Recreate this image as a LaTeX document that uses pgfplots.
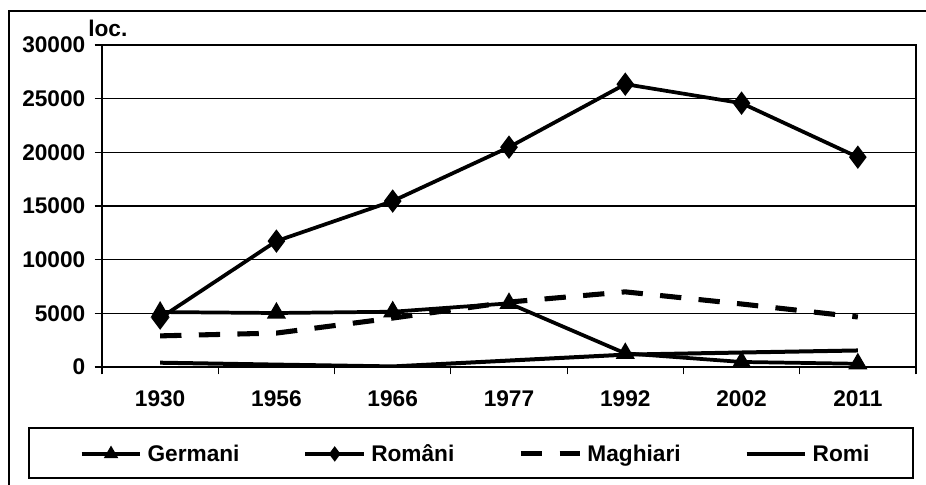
\documentclass[border=0pt]{standalone}
\usepackage{pgfplots}
\pgfplotsset{compat=1.18}
\usepackage{fontspec}
\setmainfont{Liberation Sans}
\begin{document}
\begin{tikzpicture}
\begin{axis}[
  name=ax, anchor=south west, scale only axis,
  width=610.5pt, height=241.5pt,
  xmin=-0.5, xmax=6.5, ymin=0, ymax=30000,
  xtick={0,...,6},
  xticklabels={1930,1956,1966,1977,1992,2002,2011},
  minor xtick={-0.5,0.5,...,6.5},
  ytick={0,5000,...,30000},
  scaled y ticks=false,
  xtick pos=bottom, ytick pos=left,
  ymajorgrids,
  grid style={black, line width=0.9pt},
  axis line style={line width=0.9pt},
  tick align=outside,
  major tick length=5.5pt, minor tick length=5.5pt,
  major x tick style={draw=none},
  minor x tick style={black, line width=0.9pt},
  major y tick style={black, line width=0.9pt},
  tick label style={font=\fontsize{17}{20}\selectfont\bfseries},
  yticklabel style={xshift=-3.5pt},
  xticklabel style={yshift=-8.5pt},
  /pgf/number format/assume math mode=true,
  /pgf/number format/1000 sep={},
  legend columns=4,
  legend style={draw=none, fill=none, at={(0.461,-0.27)}, anchor=center,
    font=\fontsize{17}{20}\selectfont\bfseries,
    nodes={text height=13pt, text depth=1pt, inner xsep=4pt},
    /tikz/every even column/.append style={column sep=44pt}},
  legend image code/.code={\draw[mark repeat=2,mark phase=2,#1, mark size=3.5pt] plot coordinates {(0pt,0pt) (22pt,0pt) (44pt,0pt)};},
]
\addplot[black, line width=2.8pt, mark=triangle*, mark size=5.5pt] coordinates {
  (0,5120) (1,5030) (2,5150) (3,5930) (4,1270) (5,470) (6,300)};
\addlegendentry{Germani}
\addplot[black, line width=2.8pt, mark=diamond*, mark size=6.5pt] coordinates {
  (0,4560) (1,11730) (2,15460) (3,20480) (4,26350) (5,24580) (6,19550)};
\addlegendentry{Români}
\addplot[black, line width=3.8pt, dash pattern=on 16pt off 13pt] coordinates {
  (0,2900) (1,3160) (2,4560) (3,6050) (4,7000) (5,5870) (6,4660)};
\addlegendentry{Maghiari}
\addplot[black, line width=3pt] coordinates {
  (0,400) (1,220) (2,50) (3,600) (4,1150) (5,1350) (6,1540)};
\addlegendentry{Romi}
\end{axis}
\begin{scope}[shift={(ax.south west)}, x=0.75pt, y=0.75pt]
\draw[line width=2pt] (-93,-118) -- (-93,356) -- (824,356);
\draw[line width=0.9pt] (-73,-111) rectangle (811,-61);
\node[anchor=base west, font=\fontsize{17}{20}\selectfont\bfseries, inner sep=0pt] at (-14,330) {loc.};
\pgfresetboundingbox
\useasboundingbox (-102,-118) rectangle (824,367);
\end{scope}
\end{tikzpicture}
\end{document}
